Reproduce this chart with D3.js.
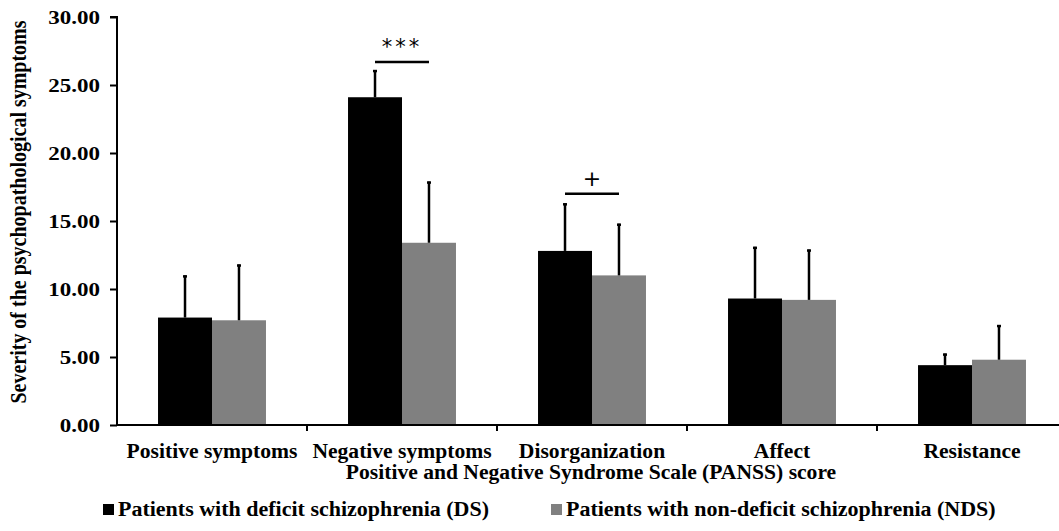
<!DOCTYPE html>
<html>
<head>
<meta charset="utf-8">
<script src="https://cdn.jsdelivr.net/npm/d3@7"></script>
<style>
  body { margin: 0; background: #fff; }
  text { font-family: "Liberation Serif", "Times New Roman", serif; font-weight: bold; fill: #000; }
</style>
</head>
<body>
<div id="chart"></div>
<script>
var categories = ["Positive symptoms", "Negative symptoms", "Disorganization", "Affect", "Resistance"]
var seriesNames = ["Patients with deficit schizophrenia (DS)", "Patients with non-deficit schizophrenia (NDS)"]
var dsMeans = [7.9, 24.1, 12.8, 9.3, 4.4]
var dsSD = [3.1, 2.0, 3.5, 3.8, 0.85]
var ndsMeans = [7.7, 13.4, 11.0, 9.2, 4.8]
var ndsSD = [4.1, 4.5, 3.8, 3.7, 2.55]
var yTicks = [0, 5, 10, 15, 20, 25, 30]
var sigCats = ["Negative symptoms", "Disorganization"]
var sigLabels = ["***", "+"]
var sigLevels = [26.7, 17.0]

var W = 1059, H = 531
var margin = { top: 17, left: 117, bottom: 106 }
var step = 190
var fs = 20, sx = 1.08

var svg = d3.select('#chart').append('svg')
  .attr('width', W)
  .attr('height', H)

var y = d3.scaleLinear()
  .domain([0, 30])
  .range([H - margin.bottom, margin.top])

var x0 = d3.scaleBand()
  .domain(categories)
  .range([margin.left, margin.left + step * categories.length])
  .padding(0)

var x1 = d3.scaleBand()
  .domain([0, 1])
  .range([0, x0.bandwidth()])
  .paddingInner(0)
  .paddingOuter(0.76)

var colors = ['#000000', '#808080']
var means = [dsMeans, ndsMeans]
var sds = [dsSD, ndsSD]

var rows = []
categories.forEach(function(c, i) {
  for (var s = 0; s < 2; s++) rows.push({ cat: c, s: s, v: means[s][i], sd: sds[s][i] })
})

// bars
svg.selectAll('rect.bar')
  .data(rows)
  .enter()
    .append('rect')
    .attr('class', 'bar')
    .attr('x', function(d) { return x0(d.cat) + x1(d.s) })
    .attr('width', x1.bandwidth())
    .attr('y', function(d) { return y(d.v) })
    .attr('height', function(d) { return y(0) - y(d.v) })
    .attr('fill', function(d) { return colors[d.s] })

// error bars, upper half only
var eb = svg.selectAll('g.err')
  .data(rows)
  .enter()
    .append('g')
    .attr('class', 'err')
    .attr('transform', function(d) { return 'translate(' + (x0(d.cat) + x1(d.s) + x1.bandwidth() / 2) + ',0)' })

eb.append('line')
  .attr('y1', function(d) { return y(d.v) })
  .attr('y2', function(d) { return y(d.v + d.sd) })
  .attr('stroke', '#000')
  .attr('stroke-width', 2.5)

eb.append('line')
  .attr('x1', -2).attr('x2', 2)
  .attr('y1', function(d) { return y(d.v + d.sd) + 1 })
  .attr('y2', function(d) { return y(d.v + d.sd) + 1 })
  .attr('stroke', '#000')
  .attr('stroke-width', 2.5)

// axes
var yAxis = d3.axisLeft(y)
  .tickValues(yTicks)
  .tickSize(7)
  .tickFormat(d3.format('.2f'))

var yG = svg.append('g')
  .attr('transform', 'translate(' + margin.left + ',0)')
  .call(yAxis)
yG.select('.domain').attr('d', 'M-7,' + y(30) + 'H0V' + y(0))
yG.selectAll('line').attr('stroke-width', 2)
yG.selectAll('path').attr('stroke-width', 2)
yG.selectAll('text')
  .attr('font-size', 19.5)
  .attr('x', null)
  .attr('dy', null)
  .attr('text-anchor', 'end')
  .attr('transform', 'translate(-17,6.5) scale(1.18,1)')

var bounds = categories.map(function(c) { return x0(c) })
var xG = svg.append('g')
  .attr('transform', 'translate(0,' + y(0) + ')')
xG.append('line')
  .attr('x1', margin.left).attr('x2', W)
  .attr('stroke', '#000').attr('stroke-width', 2)
xG.selectAll('line.tk')
  .data(bounds.slice(1))
  .enter()
    .append('line')
    .attr('class', 'tk')
    .attr('x1', function(d) { return d }).attr('x2', function(d) { return d })
    .attr('y1', 0).attr('y2', 6)
    .attr('stroke', '#000').attr('stroke-width', 2)

xG.selectAll('text.cat')
  .data(categories)
  .enter()
    .append('text')
    .attr('class', 'cat')
    .attr('font-size', fs)
    .attr('text-anchor', 'middle')
    .attr('transform', function(d) { return 'translate(' + (x0(d) + step / 2) + ',33) scale(' + sx + ',1)' })
    .text(function(d) { return d })

svg.append('text')
  .attr('font-size', fs)
  .attr('text-anchor', 'middle')
  .attr('transform', 'translate(591,479) scale(' + sx + ',1)')
  .text('Positive and Negative Syndrome Scale (PANSS) score')

svg.append('text')
  .attr('font-size', 20)
  .attr('text-anchor', 'middle')
  .attr('transform', 'translate(26,' + ((y(0) + y(30)) / 2 - 9) + ') rotate(-90) scale(1,1.2)')
  .text('Severity of the psychopathological symptoms')

// significance markers
sigCats.forEach(function(c, i) {
  var xa = x0(c) + x1(0) + x1.bandwidth() / 2
  var xb = x0(c) + x1(1) + x1.bandwidth() / 2
  var yy = y(sigLevels[i])
  svg.append('line')
    .attr('x1', xa).attr('x2', xb)
    .attr('y1', yy).attr('y2', yy)
    .attr('stroke', '#000').attr('stroke-width', 2.5)
  svg.append('text')
    .attr('x', (xa + xb) / 2)
    .attr('y', yy - 8)
    .attr('text-anchor', 'middle')
    .attr('font-size', sigLabels[i] === '+' ? 22 : 21)
    .attr('letter-spacing', sigLabels[i] === '+' ? 0 : 3)
    .style('font-weight', 'normal')
    .style('font-family', '"DejaVu Sans", sans-serif')
    .text(sigLabels[i])
})

// legend
var legendX = [103, 551]
var lg = svg.selectAll('g.legend')
  .data(seriesNames)
  .enter()
    .append('g')
    .attr('class', 'legend')
    .attr('transform', function(d, i) { return 'translate(' + legendX[i] + ',516)' })
lg.append('rect')
  .attr('x', 0).attr('y', -12)
  .attr('width', 11).attr('height', 11)
  .attr('fill', function(d, i) { return colors[i] })
lg.append('text')
  .attr('font-size', fs)
  .attr('transform', 'translate(15,0) scale(1.1,1)')
  .text(function(d) { return d })
</script>
</body>
</html>
